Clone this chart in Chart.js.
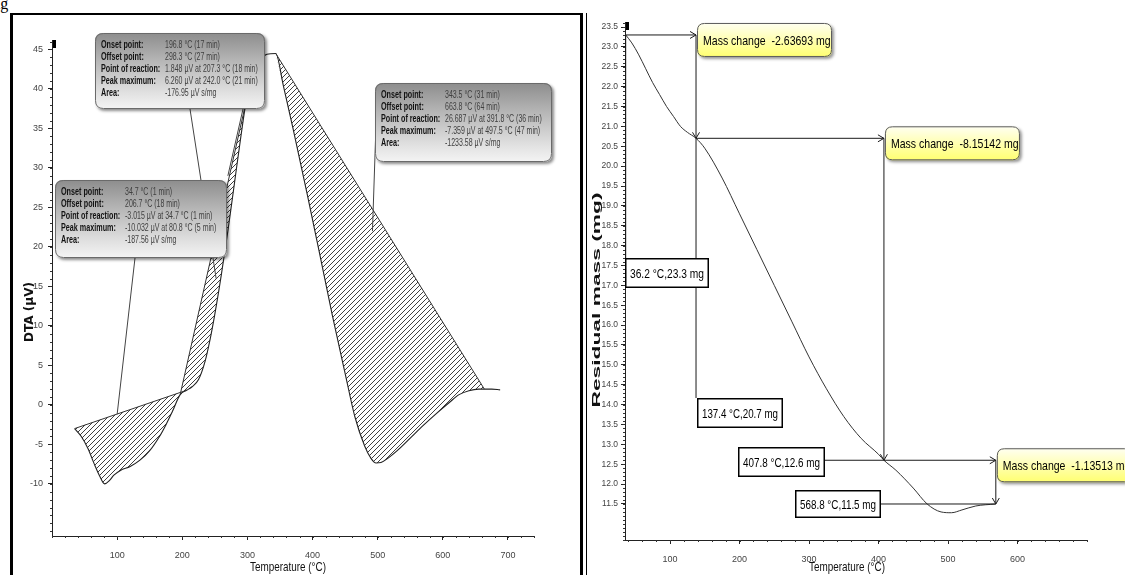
<!DOCTYPE html>
<html>
<head>
<meta charset="utf-8">
<script src="https://cdn.jsdelivr.net/npm/chart.js@4.4.1/dist/chart.umd.min.js"></script>
<style>
  html, body { margin: 0; padding: 0; background: #fff; width: 1125px; height: 575px; overflow: hidden; }
  #wrap { position: relative; width: 1125px; height: 575px; }
  canvas { position: absolute; top: 0; }
  #dta { left: 0; }
  #tg { left: 590px; }
  .rule { position: absolute; background: #000; z-index: 5; }
  #fig { position: absolute; left: -13px; top: -5px; font: 16px "Liberation Serif", serif; color: #000; }
</style>
</head>
<body>
<div id="wrap">
  <div id="fig">Fig</div>
  <canvas id="dta" width="580" height="575"></canvas>
  <canvas id="tg" width="535" height="575"></canvas>
  <div class="rule" style="left:10px;top:13px;width:3px;height:562px"></div>
  <div class="rule" style="left:10px;top:13px;width:573px;height:2px"></div>
  <div class="rule" style="left:580px;top:13px;width:3px;height:562px"></div>
  <div class="rule" style="left:586px;top:13px;width:1px;height:562px"></div>
</div>
<script>
// ---------- DTA trace ----------
const dtaTemp = [34.7, 45, 55, 65, 72, 80.8, 88, 95, 105, 120, 135, 150, 165, 175, 185, 196.8, 206.7,
  215, 225, 235, 242, 250, 260, 270, 280, 290, 298.3, 310, 320, 330, 343.5,
  355, 370, 391.8, 410, 430, 450, 465, 480, 490, 497.5, 505, 515, 530, 550, 570, 590, 610, 625, 640, 655, 663.8, 675, 688];
const dtaSignal = [-3.0, -4.0, -5.5, -7.5, -8.8, -10.0, -9.6, -8.9, -8.3, -7.8, -7.0, -5.8, -4.0, -2.5, -0.8, 1.3, 1.85,
  2.3, 3.2, 5.5, 8.0, 11.5, 16.5, 22, 28, 34, 38.5, 42, 43.7, 44.4, 44.5,
  40.5, 35, 26.7, 19.5, 11.5, 4, -1.5, -5.2, -6.8, -7.36, -7.3, -6.8, -5.8, -4.2, -2.6, -1.1, 0.3, 1.3, 1.8, 2.0, 2.0, 2.0, 1.9];
const dtaTicksX = [100, 200, 300, 400, 500, 600, 700];
const dtaTicksY = [-10, -5, 0, 5, 10, 15, 20, 25, 30, 35, 40, 45];

// integrated peaks
const peakOnset = [34.7, 196.8, 343.5];
const peakOffset = [206.7, 298.3, 663.8];
const peakOnsetMin = [1, 17, 31];
const peakOffsetMin = [18, 27, 64];
const reactionSignal = [-3.015, 1.848, 26.687];
const reactionTemp = [34.7, 207.3, 391.8];
const reactionMin = [1, 18, 36];
const peakMaxSignal = [-10.032, 6.260, -7.359];
const peakMaxTemp = [80.8, 242.0, 497.5];
const peakMaxMin = [5, 21, 47];
const peakArea = [-187.56, -176.95, -1233.58];
const calloutRows = ['Onset point:', 'Offset point:', 'Point of reaction:', 'Peak maximum:', 'Area:'];

// ---------- TG trace ----------
const tgTemp = [36.2, 45, 55, 65, 75, 85, 95, 105, 115, 125, 137.4, 150, 175, 200, 225, 250, 275, 300, 325, 350, 375, 400, 407.8,
  425, 450, 470, 490, 505, 520, 540, 568.8];
const tgMass = [23.3, 23.1, 22.8, 22.45, 22.1, 21.8, 21.5, 21.25, 21.0, 20.85, 20.7, 20.45, 19.7, 18.8, 17.9, 17.0, 16.1, 15.2, 14.4, 13.7, 13.15, 12.75, 12.6,
  12.35, 11.9, 11.5, 11.3, 11.28, 11.35, 11.45, 11.5];
const tgTicksX = [100, 200, 300, 400, 500, 600];
const tgTicksY = [11.5, 12, 12.5, 13, 13.5, 14, 14.5, 15, 15.5, 16, 16.5, 17, 17.5, 18, 18.5, 19, 19.5, 20, 20.5, 21, 21.5, 22, 22.5, 23, 23.5];
const stepTemp = [36.2, 137.4, 407.8, 568.8];
const stepMass = [23.3, 20.7, 12.6, 11.5];
const massChange = [-2.63693, -8.15142, -1.13513];

// ---------- helpers ----------
const SANS = '"Liberation Sans", Arial, sans-serif';

function hatchPattern() {
  const c = document.createElement('canvas');
  c.width = 5; c.height = 5;
  const g = c.getContext('2d');
  g.strokeStyle = '#2a2a2a';
  g.lineWidth = 0.9;
  g.beginPath();
  g.moveTo(0, 5); g.lineTo(5, 0);
  g.moveTo(-1, 1); g.lineTo(1, -1);
  g.moveTo(4, 6); g.lineTo(6, 4);
  g.stroke();
  return g.createPattern(c, 'repeat');
}

// text squeezed or stretched horizontally by a factor
function scaledText(ctx, s, x, y, sx) {
  ctx.save();
  ctx.translate(x, y);
  ctx.scale(sx, 1);
  ctx.fillText(s, 0, 0);
  ctx.restore();
}
function stretchText(ctx, s, x, y, w) {
  scaledText(ctx, s, x, y, w / ctx.measureText(s).width);
}

function roundRect(ctx, x, y, w, h, r) {
  ctx.beginPath();
  ctx.moveTo(x + r, y);
  ctx.lineTo(x + w - r, y); ctx.quadraticCurveTo(x + w, y, x + w, y + r);
  ctx.lineTo(x + w, y + h - r); ctx.quadraticCurveTo(x + w, y + h, x + w - r, y + h);
  ctx.lineTo(x + r, y + h); ctx.quadraticCurveTo(x, y + h, x, y + h - r);
  ctx.lineTo(x, y + r); ctx.quadraticCurveTo(x, y, x + r, y);
  ctx.closePath();
}

const minorTicks = {
  id: 'minorTicks',
  afterDraw(chart, args, o) {
    const { ctx, chartArea: a, scales: { x, y } } = chart;
    ctx.save();
    ctx.strokeStyle = '#333';
    ctx.lineWidth = 1;
    ctx.beginPath();
    const i0 = Math.ceil(x.min / o.xStep), i1 = Math.floor(x.max / o.xStep);
    for (let i = i0; i <= i1; i++) {
      const px = Math.round(x.getPixelForValue(i * o.xStep)) + 0.5;
      ctx.moveTo(px, a.bottom); ctx.lineTo(px, a.bottom + o.len);
    }
    const j0 = Math.ceil(y.min / o.yStep - 1e-9), j1 = Math.floor(y.max / o.yStep + 1e-9);
    for (let j = j0; j <= j1; j++) {
      const py = Math.round(y.getPixelForValue(j * o.yStep)) + 0.5;
      ctx.moveTo(a.left, py); ctx.lineTo(a.left - o.len, py);
    }
    ctx.stroke();
    // cursor marker at the top of the value axis
    ctx.fillStyle = '#000';
    ctx.fillRect(a.left + 1, a.top, 3, 8);
    // axis titles
    ctx.fillStyle = '#111';
    ctx.font = '13px ' + SANS;
    ctx.textAlign = 'left';
    ctx.textBaseline = 'middle';
    stretchText(ctx, o.xTitle, o.xTitleX - o.xTitleW / 2, o.xTitleY, o.xTitleW);
    ctx.save();
    ctx.translate(o.yTitleX, o.yTitleY);
    ctx.rotate(-Math.PI / 2);
    ctx.font = o.yTitleFont;
    stretchText(ctx, o.yTitle, -o.yTitleW / 2, 0, o.yTitleW);
    ctx.restore();
    ctx.restore();
  }
};

// ---------- DTA callouts ----------
const calloutBoxes = [
  { x: 55, y: 180, w: 172, h: 78 },
  { x: 95, y: 33, w: 170, h: 76 },
  { x: 375, y: 83, w: 177, h: 79 }
];
const calloutLeaders = [
  [{ fx: 135, fy: 258, t: 100, v: -1.2 }],
  [{ fx: 190, fy: 109, t: 252, v: 16 }, { fx: 243, fy: 109, t: 270, v: 29 }],
  [{ fx: 376, fy: 125, t: 492, v: 22 }]
];

function calloutValues(i) {
  return [
    `${peakOnset[i].toFixed(1)} °C (${peakOnsetMin[i]} min)`,
    `${peakOffset[i].toFixed(1)} °C (${peakOffsetMin[i]} min)`,
    `${reactionSignal[i].toFixed(3)} µV at ${reactionTemp[i].toFixed(1)} °C (${reactionMin[i]} min)`,
    `${peakMaxSignal[i].toFixed(3)} µV at ${peakMaxTemp[i].toFixed(1)} °C (${peakMaxMin[i]} min)`,
    `${peakArea[i].toFixed(2)} µV s/mg`
  ];
}

const dtaNotes = {
  id: 'dtaNotes',
  afterDraw(chart) {
    const { ctx, scales: { x, y } } = chart;
    ctx.save();
    // leader lines
    ctx.strokeStyle = '#444';
    ctx.lineWidth = 1;
    calloutLeaders.forEach(list => list.forEach(l => {
      ctx.beginPath();
      ctx.moveTo(l.fx, l.fy);
      ctx.lineTo(x.getPixelForValue(l.t), y.getPixelForValue(l.v));
      ctx.stroke();
    }));
    // boxes
    calloutBoxes.forEach((b, i) => {
      ctx.save();
      ctx.shadowColor = 'rgba(0,0,0,0.45)';
      ctx.shadowBlur = 3; ctx.shadowOffsetX = 2; ctx.shadowOffsetY = 2;
      const g = ctx.createLinearGradient(0, b.y, 0, b.y + b.h);
      g.addColorStop(0, '#8d8d8d');
      g.addColorStop(0.35, '#b4b4b4');
      g.addColorStop(0.8, '#e2e2e2');
      g.addColorStop(1, '#f4f4f4');
      ctx.fillStyle = g;
      roundRect(ctx, b.x, b.y, b.w, b.h, 8);
      ctx.fill();
      ctx.restore();
      ctx.strokeStyle = '#6a6a6a';
      ctx.lineWidth = 1;
      roundRect(ctx, b.x + 0.5, b.y + 0.5, b.w - 1, b.h - 1, 8);
      ctx.stroke();
      const vals = calloutValues(i);
      ctx.textBaseline = 'middle';
      ctx.textAlign = 'left';
      calloutRows.forEach((r, k) => {
        const ty = b.y + 12.5 + k * 12;
        ctx.fillStyle = '#111';
        ctx.font = 'bold 10px ' + SANS;
        scaledText(ctx, r, b.x + 6, ty, 0.72);
        ctx.fillStyle = '#404040';
        ctx.font = '10px ' + SANS;
        scaledText(ctx, vals[k], b.x + 70, ty, 0.7);
      });
    });
    ctx.restore();
  }
};

// ---------- TG step annotations ----------
const stepLabelBoxes = [
  { x: 35, y: 258, w: 84, h: 30, side: 'top' },
  { x: 107, y: 398, w: 86, h: 30, side: 'top' },
  { x: 148, y: 447, w: 87, h: 30, side: 'right' },
  { x: 205, y: 490, w: 86, h: 28, side: 'right' }
];

function arrowHead(ctx, x, y, dir) {
  const s = 6, h = 3.5;
  ctx.beginPath();
  if (dir === 'right') { ctx.moveTo(x - s, y - h); ctx.lineTo(x, y); ctx.lineTo(x - s, y + h); }
  else { ctx.moveTo(x - h, y - s); ctx.lineTo(x, y); ctx.lineTo(x + h, y - s); }
  ctx.stroke();
}

const tgNotes = {
  id: 'tgNotes',
  afterDraw(chart) {
    const { ctx, scales: { x, y } } = chart;
    const P = stepTemp.map((t, i) => ({ x: x.getPixelForValue(t), y: y.getPixelForValue(stepMass[i]) }));
    ctx.save();
    ctx.strokeStyle = '#1a1a1a';
    ctx.lineWidth = 1;
    // label leaders
    stepLabelBoxes.forEach((b, i) => {
      ctx.beginPath();
      if (b.side === 'top') { ctx.moveTo(P[i].x, P[i].y); ctx.lineTo(P[i].x, b.y); }
      else { ctx.moveTo(b.x + b.w, P[i].y); ctx.lineTo(P[i].x, P[i].y); }
      ctx.stroke();
    });
    // staircase of mass steps
    for (let i = 0; i < P.length - 1; i++) {
      const a = P[i], b = P[i + 1];
      ctx.beginPath();
      ctx.moveTo(a.x, a.y); ctx.lineTo(b.x, a.y); ctx.lineTo(b.x, b.y);
      ctx.stroke();
      arrowHead(ctx, b.x, a.y, 'right');
      arrowHead(ctx, b.x, b.y, 'down');
    }
    // label boxes
    ctx.textBaseline = 'middle';
    ctx.textAlign = 'left';
    stepLabelBoxes.forEach((b, i) => {
      ctx.fillStyle = '#fff';
      ctx.fillRect(b.x, b.y, b.w, b.h);
      ctx.strokeStyle = '#000';
      ctx.lineWidth = 1.5;
      ctx.strokeRect(b.x + 0.75, b.y + 0.75, b.w - 1.5, b.h - 1.5);
      ctx.fillStyle = '#000';
      ctx.font = '13px ' + SANS;
      stretchText(ctx, `${stepTemp[i].toFixed(1)} °C,${stepMass[i].toFixed(1)} mg`, b.x + 5, b.y + b.h / 2 + 1, b.w - 10);
    });
    // mass change boxes
    for (let i = 0; i < massChange.length; i++) {
      const bx = P[i + 1].x + 1, by = P[i].y - 12, bw = 135, bh = 34;
      ctx.save();
      ctx.shadowColor = 'rgba(0,0,0,0.4)';
      ctx.shadowBlur = 3; ctx.shadowOffsetX = 2; ctx.shadowOffsetY = 2;
      const g = ctx.createLinearGradient(0, by, 0, by + bh);
      g.addColorStop(0, '#fffff2');
      g.addColorStop(0.45, '#ffffb8');
      g.addColorStop(1, '#ffff70');
      ctx.fillStyle = g;
      roundRect(ctx, bx, by, bw, bh, 7);
      ctx.fill();
      ctx.restore();
      ctx.strokeStyle = '#5a5a5a';
      ctx.lineWidth = 1;
      roundRect(ctx, bx + 0.5, by + 0.5, bw - 1, bh - 1, 7);
      ctx.stroke();
      ctx.fillStyle = '#000';
      ctx.font = '13.5px ' + SANS;
      scaledText(ctx, `Mass change  ${massChange[i].toFixed(5)} mg`, bx + 6, by + bh / 2 + 1, 0.78);
    }
    ctx.restore();
  }
};

// ---------- charts ----------
Chart.defaults.animation = false;
Chart.defaults.font.family = SANS;

const hatch = hatchPattern();
const dtaPoints = dtaTemp.map((t, i) => ({ x: t, y: dtaSignal[i] }));
const peakSets = peakOnset.map((on, k) => ({
  data: dtaPoints.filter(p => p.x >= on && p.x <= peakOffset[k]),
  borderWidth: 0,
  pointRadius: 0,
  fill: 'shape',
  backgroundColor: hatch,
  cubicInterpolationMode: 'monotone'
}));
const baselineSets = peakOnset.map((on, k) => ({
  data: dtaPoints.filter(p => p.x === on || p.x === peakOffset[k]),
  borderColor: '#333',
  borderWidth: 1,
  pointRadius: 0,
  fill: false
}));

function axisCommon(extra) {
  return Object.assign({
    type: 'linear',
    grid: { display: true, drawOnChartArea: false, drawTicks: true, tickLength: 4, color: '#222' },
    border: { display: true, color: '#222', width: 1 },
  }, extra);
}

new Chart(document.getElementById('dta'), {
  type: 'line',
  data: {
    datasets: [
      ...peakSets,
      ...baselineSets,
      { data: dtaPoints, borderColor: '#222', borderWidth: 1.1, pointRadius: 0, fill: false, cubicInterpolationMode: 'monotone' }
    ]
  },
  options: {
    responsive: false,
    layout: { padding: { top: 40, right: 46, bottom: 0, left: 0 } },
    plugins: {
      legend: { display: false }, tooltip: { enabled: false },
      minorTicks: { xStep: 20, yStep: 1, len: 2,
        xTitle: 'Temperature (°C)', xTitleX: 288, xTitleY: 567, xTitleW: 76,
        yTitle: 'DTA (µV)', yTitleX: 30, yTitleY: 312, yTitleW: 60, yTitleFont: 'bold 12px "DejaVu Sans", sans-serif' }
    },
    scales: {
      x: axisCommon({
        min: 0, max: 740,
        afterFit: s => { s.height = 39; },
        afterBuildTicks: s => { s.ticks = dtaTicksX.map(v => ({ value: v })); },
        ticks: { font: { size: 9 }, color: '#444', padding: 10, maxRotation: 0, autoSkip: false }
      }),
      y: axisCommon({
        min: -16.6, max: 46.2,
        afterFit: s => { s.width = 52; },
        afterBuildTicks: s => { s.ticks = dtaTicksY.map(v => ({ value: v })); },
        ticks: { font: { size: 9 }, color: '#444', padding: 5, autoSkip: false }
      })
    }
  },
  plugins: [minorTicks, dtaNotes]
});

new Chart(document.getElementById('tg'), {
  type: 'line',
  data: {
    datasets: [
      { data: tgTemp.map((t, i) => ({ x: t, y: tgMass[i] })), borderColor: '#333', borderWidth: 1, pointRadius: 0, fill: false, cubicInterpolationMode: 'monotone' }
    ]
  },
  options: {
    responsive: false,
    layout: { padding: { top: 22, right: 38, bottom: 0, left: 0 } },
    plugins: {
      legend: { display: false }, tooltip: { enabled: false },
      minorTicks: { xStep: 20, yStep: 0.1, len: 2,
        xTitle: 'Temperature (°C)', xTitleX: 257, xTitleY: 567, xTitleW: 76,
        yTitle: 'Residual mass (mg)', yTitleX: 7, yTitleY: 300, yTitleW: 215, yTitleFont: 'bold 11px "Liberation Sans", sans-serif' }
    },
    scales: {
      x: axisCommon({
        min: 35.2, max: 700,
        afterFit: s => { s.height = 35; },
        afterBuildTicks: s => { s.ticks = tgTicksX.map(v => ({ value: v })); },
        ticks: { font: { size: 9 }, color: '#444', padding: 10, maxRotation: 0, autoSkip: false }
      }),
      y: axisCommon({
        min: 10.594, max: 23.626,
        afterFit: s => { s.width = 35; },
        afterBuildTicks: s => { s.ticks = tgTicksY.map(v => ({ value: v })); },
        ticks: { font: { size: 8.5 }, color: '#444', padding: 3, autoSkip: false, callback: v => Number(v).toFixed(1) }
      })
    }
  },
  plugins: [minorTicks, tgNotes]
});
</script>
</body>
</html>
